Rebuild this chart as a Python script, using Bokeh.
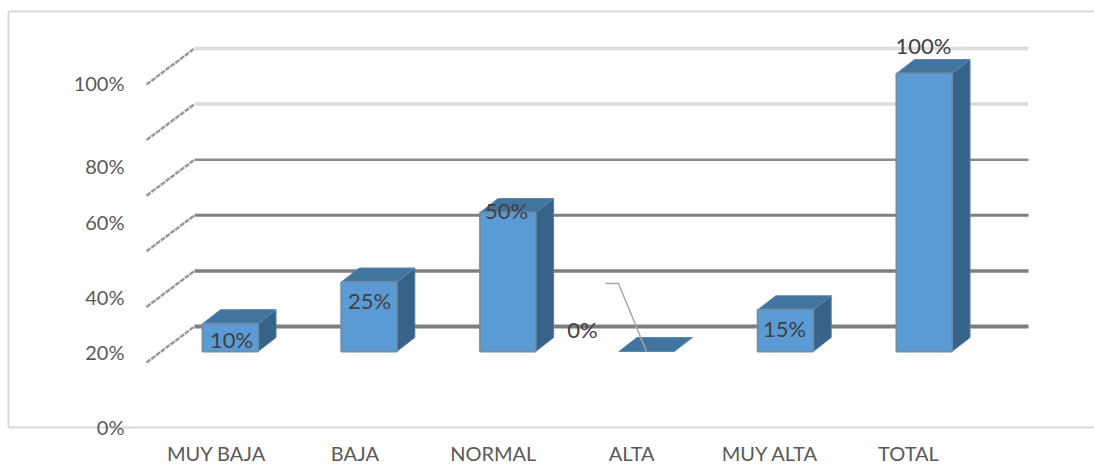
from bokeh.plotting import figure
from bokeh.models import Range1d, FixedTicker, ColumnDataSource
from bokeh.core.properties import value
from bokeh.embed import file_html
from bokeh.resources import INLINE

# ---- data ----
categories = ["MUY BAJA", "BAJA", "NORMAL", "ALTA", "MUY ALTA", "TOTAL"]
percent = [10, 25, 50, 0, 15, 100]
data_labels = ["10%", "25%", "50%", "0%", "15%", "100%"]
y_tick_labels = ["100%", "80%", "60%", "40%", "20%", "0%"]
grid_levels = [0, 20, 40, 60, 80, 100]

# ---- layout (screen pixels of the page, converted to data units) ----
W, H = 1094, 465
PX_PER_PCT = 2.78
PX_PER_CAT = 138.4
def xu(px):  # category units from page px
    return (px - 216.0) / PX_PER_CAT
def yu(py):  # percent units from page py
    return (351.0 - py) / PX_PER_PCT

FONT = "Lato"
p = figure(width=W, height=H, output_backend="svg", toolbar_location=None,
           x_range=Range1d(xu(0), xu(W)), y_range=Range1d(yu(H), yu(0)),
           min_border=0, min_border_left=0, min_border_right=0,
           min_border_top=0, min_border_bottom=0,
           background_fill_color="white", border_fill_color="white")
p.outline_line_color = None
p.grid.visible = False

# chart frame
p.line([xu(8), xu(8)], [yu(11), yu(427)], line_color="#d9d9d9", line_width=2)
p.line([xu(8), xu(1094)], [yu(11), yu(11)], line_color="#d9d9d9", line_width=2)
p.line([xu(8), xu(1094)], [yu(427), yu(427)], line_color="#d9d9d9", line_width=2)

# gridlines on the back wall and floor-side diagonals
grid_col = ["#7f7f7f", "#7f7f7f", "#808080", "#8c8c8c", "#dcdcdc", "#dcdcdc"]
grid_w = [4, 3.5, 3, 2.5, 3.5, 3.5]
BACK = 25 / PX_PER_PCT
FRONT = -11 / PX_PER_PCT
for g, c, w in zip(grid_levels, grid_col, grid_w):
    p.line([xu(194), xu(1028)], [g + BACK, g + BACK], line_color=c, line_width=w)
    p.line([xu(146), xu(194)], [g + FRONT, g + BACK], line_color="#999999",
           line_width=2.5, line_dash="5 1")

# faux-3D bars
BAR_W = 55.5 / PX_PER_CAT
DX = 18 / PX_PER_CAT
DY = 14 / PX_PER_PCT
left_px = [202 + 138.8 * i for i in range(len(percent))]
for lp, v in zip(left_px, percent):
    x0 = xu(lp)
    x1 = x0 + BAR_W
    if v > 0:
        p.patch([x1, x1 + DX, x1 + DX, x1], [0, DY, v + DY, v],
                fill_color="#376389", line_color="#4f7ea6", line_width=1)
        p.patch([x0, x1, x1 + DX, x0 + DX], [v, v, v + DY, v + DY],
                fill_color="#4274a0", line_color="#5a88ae", line_width=1)
        p.quad(left=[x0], right=[x1], bottom=[0], top=[v],
               fill_color="#5b9bd5", line_color="#6c8fac", line_width=2)
    else:
        p.patch([x0, x1, x1 + DX, x0 + DX], [v, v, v + DY, v + DY],
                fill_color="#4274a0", line_color="#5a88ae", line_width=1)

# leader line of the 0% label
p.line([xu(605), xu(618), xu(646)], [yu(283), yu(283), yu(351)],
       line_color="#a6a6a6", line_width=1.5)

# data labels
label_x_px = [231, 369, 506, 582, 784, 923]
label_y_px = [339, 300, 210, 329, 328, 45]
src = ColumnDataSource(dict(x=[xu(v) for v in label_x_px],
                            y=[yu(v) for v in label_y_px],
                            t=data_labels))
p.text("x", "y", text="t", source=src, text_align="center", text_baseline="middle",
       text_font=value(FONT), text_font_size="22px", text_color="#404040")

# axes, fixed inside the frame
y_tick_py = [82, 165, 221, 296, 351, 426]
y_ticks = [yu(v) for v in y_tick_py]
ya = p.yaxis[0]
ya.fixed_location = xu(128)
ya.ticker = FixedTicker(ticks=y_ticks)
ya.major_label_overrides = dict(zip(y_ticks, y_tick_labels))
ya.axis_line_color = None
ya.major_tick_line_color = None
ya.minor_tick_line_color = None
ya.major_tick_out = 0
ya.major_label_standoff = 4
ya.major_label_text_font = FONT
ya.major_label_text_font_size = "20px"
ya.major_label_text_color = "#595959"

x_ticks = list(range(len(categories)))
xa = p.xaxis[0]
xa.fixed_location = yu(438)
xa.ticker = FixedTicker(ticks=x_ticks)
xa.major_label_overrides = dict(zip(x_ticks, categories))
xa.axis_line_color = None
xa.major_tick_line_color = None
xa.minor_tick_line_color = None
xa.major_tick_out = 0
xa.major_label_standoff = 2
xa.major_label_text_font = FONT
xa.major_label_text_font_size = "20px"
xa.major_label_text_color = "#595959"

open("out.html", "w").write(file_html(p, INLINE))
